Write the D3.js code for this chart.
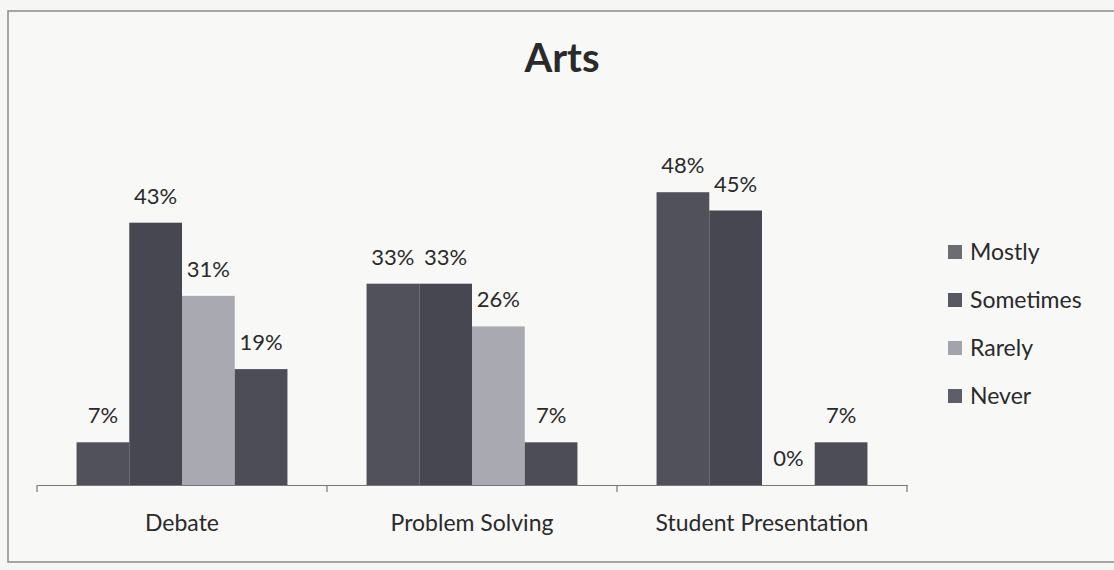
<!DOCTYPE html>
<html>
<head>
<meta charset="utf-8">
<script src="https://cdn.jsdelivr.net/npm/d3@7"></script>
<style>
  body { margin: 0; background: #f6f6f5; }
  svg { display: block; }
  text { font-family: Lato, "Open Sans", sans-serif; fill: #2a2a2a; }
</style>
</head>
<body>
<div id="chart"></div>
<script>
var categories = ['Debate', 'Problem Solving', 'Student Presentation'];
var series = ['Mostly', 'Sometimes', 'Rarely', 'Never'];
var mostly = [0.07, 0.33, 0.48];
var sometimes = [0.43, 0.33, 0.45];
var rarely = [0.31, 0.26, 0.00];
var never = [0.19, 0.07, 0.07];
var colors = ['#51515b', '#474752', '#a9a9b1', '#4d4d58'];
var legendColors = ['#6c6c72', '#585862', '#a3a3ab', '#5e5e68'];

var width = 1114, height = 570;
var values = [mostly, sometimes, rarely, never];

var svg = d3.select('#chart').append('svg')
    .attr('width', width)
    .attr('height', height);

// frame of the chart area
svg.append('rect')
    .attr('x', 8).attr('y', 11)
    .attr('width', 1120).attr('height', 551)
    .attr('fill', '#f8f8f7')
    .attr('stroke', '#8a8a8a')
    .attr('stroke-width', 1.5);

svg.append('text')
    .attr('x', 562).attr('y', 72)
    .attr('text-anchor', 'middle')
    .style('font-size', '40px')
    .style('font-weight', 'bold')
    .text('Arts');

var baseY = 485;
var x0 = d3.scaleBand().domain(categories).range([37, 907]);
var x1 = d3.scaleBand().domain(series).range([0, x0.bandwidth()]).paddingOuter(0.75);
var y = d3.scaleLinear().domain([0, 0.5]).range([baseY, baseY - 305]);

var groups = svg.selectAll('.group')
    .data(categories)
  .enter().append('g')
    .attr('class', 'group')
    .attr('transform', function(d) { return 'translate(' + x0(d) + ',0)'; });

groups.selectAll('rect')
    .data(function(d, i) {
        return series.map(function(s, j) { return { s: s, j: j, v: values[j][i] }; });
    })
  .enter().append('rect')
    .attr('x', function(d) { return x1(d.s); })
    .attr('y', function(d) { return y(d.v); })
    .attr('width', x1.bandwidth())
    .attr('height', function(d) { return baseY - y(d.v); })
    .attr('fill', function(d) { return colors[d.j]; });

groups.selectAll('.lbl')
    .data(function(d, i) {
        return series.map(function(s, j) { return { s: s, j: j, v: values[j][i] }; });
    })
  .enter().append('text')
    .attr('class', 'lbl')
    .attr('x', function(d) { return x1(d.s) + x1.bandwidth() / 2; })
    .attr('y', function(d) { return y(d.v) - 19; })
    .attr('text-anchor', 'middle')
    .style('font-size', '22px')
    .text(function(d) { return Math.round(d.v * 100) + '%'; });

// category axis
var axis = svg.append('g')
    .attr('transform', 'translate(0,' + baseY + ')')
    .call(d3.axisBottom(x0).tickSize(0).tickPadding(30));
axis.select('.domain').attr('stroke', '#777').attr('stroke-width', 1.2);
axis.selectAll('text')
    .style('font-size', '23px')
    .style('font-family', 'Lato, "Open Sans", sans-serif')
    .attr('fill', '#2a2a2a');

var tickPos = categories.map(function(c) { return x0(c); }).concat([x0.range()[1]]);
axis.selectAll('.sep')
    .data(tickPos)
  .enter().append('line')
    .attr('class', 'sep')
    .attr('x1', function(d) { return d; })
    .attr('x2', function(d) { return d; })
    .attr('y1', 0).attr('y2', 7)
    .attr('stroke', '#777').attr('stroke-width', 1.2);

// legend
var legend = svg.selectAll('.legend')
    .data(series)
  .enter().append('g')
    .attr('class', 'legend')
    .attr('transform', function(d, i) { return 'translate(948,' + (245 + i * 48) + ')'; });

legend.append('rect')
    .attr('width', 14).attr('height', 14)
    .attr('fill', function(d, i) { return legendColors[i]; });

legend.append('text')
    .attr('x', 22).attr('y', 15)
    .style('font-size', '23px')
    .text(function(d) { return d; });
</script>
</body>
</html>
